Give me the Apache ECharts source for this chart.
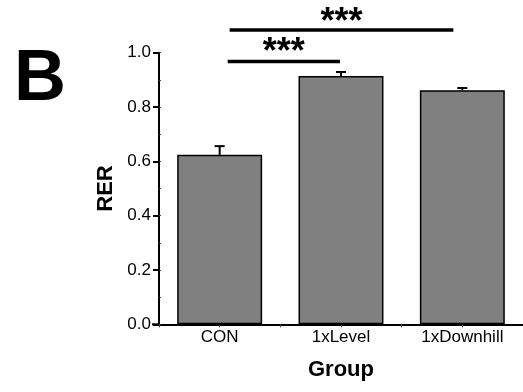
<!DOCTYPE html>
<html><head><meta charset="utf-8">
<script src="https://cdn.jsdelivr.net/npm/echarts@6/dist/echarts.min.js"></script>
<style>html,body{margin:0;padding:0;background:#fff}#c{width:523px;height:392px}</style>
</head><body><div id="c"></div>
<script>
var categories = ['CON', '1xLevel', '1xDownhill'];
var values = [0.624, 0.914, 0.862];
var errors = [0.032, 0.015, 0.008];
var yTicks = [0.0, 0.2, 0.4, 0.6, 0.8, 1.0];
// [from index, to index, bracket level (y value), label, label centre (y value)]
var sigPairs = [[0, 1, 0.968, '***', 1.022], [0, 2, 1.084, '***', 1.130]];

var FONT = 'Liberation Sans, Arial, sans-serif';
var chart = echarts.init(document.getElementById('c'), null, {renderer: 'canvas'});

var errData = values.map(function (v, i) { return [i, v, v + errors[i]]; });

var option = {
  animation: false,
  backgroundColor: '#fff',
  grid: {left: 159, right: -5, top: 52.7, bottom: 67.7, containLabel: false},
  xAxis: [{
    type: 'category', data: categories, boundaryGap: true,
    name: 'Group', nameLocation: 'middle', nameGap: 35,
    nameTextStyle: {fontFamily: FONT, fontWeight: 'bold', fontSize: 22, color: '#000'},
    axisLine: {lineStyle: {color: '#000', width: 2}},
    axisTick: {show: true, length: 3, inside: false, lineStyle: {color: '#444', width: 1}},
    axisLabel: {fontFamily: FONT, fontSize: 17, color: '#000', margin: 5}
  }, {
    type: 'category', data: categories, boundaryGap: true, position: 'bottom', offset: 0,
    axisLine: {show: false},
    axisTick: {show: true, alignWithLabel: true, length: 3, lineStyle: {color: '#444', width: 1}},
    axisLabel: {show: false}
  }],
  yAxis: [{
    type: 'value', min: 0, max: 1, interval: 0.2,
    name: 'RER', nameLocation: 'middle', nameGap: 39, nameRotate: 90,
    nameTextStyle: {fontFamily: FONT, fontWeight: 'bold', fontSize: 22, color: '#000'},
    axisLine: {show: true, lineStyle: {color: '#000', width: 2}},
    axisTick: {show: true, length: 6, lineStyle: {color: '#000', width: 2}},
    splitLine: {show: false},
    axisLabel: {fontFamily: FONT, fontSize: 17, color: '#000', margin: 8,
      formatter: function (v) { return v.toFixed(1); }}
  }, {
    type: 'value', min: 0, max: 1, interval: 0.1, position: 'left', offset: 0,
    axisLine: {show: false},
    axisTick: {show: true, inside: true, length: 2, lineStyle: {color: '#444', width: 1}},
    splitLine: {show: false},
    axisLabel: {show: false}
  }],
  series: [
    {
      type: 'bar', data: values, barWidth: '70%',
      itemStyle: {color: '#808080', borderColor: '#000', borderWidth: 1.5}
    },
    {
      type: 'custom', data: errData, z: 3,
      renderItem: function (params, api) {
        var i = api.value(0);
        var lo = api.coord([i, api.value(1)]);
        var hi = api.coord([i, api.value(2)]);
        var hw = 5;
        return {
          type: 'group', children: [
            {type: 'line', shape: {x1: lo[0], y1: lo[1], x2: hi[0], y2: hi[1]}, style: {stroke: '#000', lineWidth: 2}},
            {type: 'line', shape: {x1: hi[0] - hw, y1: hi[1], x2: hi[0] + hw, y2: hi[1]}, style: {stroke: '#000', lineWidth: 2}}
          ]
        };
      }
    }
  ],
  graphic: []
};
chart.setOption(option);

var origin = chart.convertToPixel({seriesIndex: 0}, [0, 0]);
var g = [
  {type: 'text', left: 14, top: 44, style: {text: 'B', font: 'bold 72px ' + FONT, fill: '#000'}},
  {type: 'line', shape: {x1: 152, y1: origin[1], x2: 160, y2: origin[1]}, style: {stroke: '#000', lineWidth: 2}}
];
sigPairs.forEach(function (p, k) {
  var a = chart.convertToPixel({seriesIndex: 0}, [p[0], p[2]]);
  var b = chart.convertToPixel({seriesIndex: 0}, [p[1], p[2]]);
  var t = chart.convertToPixel({seriesIndex: 0}, [p[0], p[4]]);
  var x1 = a[0] + (k === 0 ? 8 : 10);
  var x2 = b[0] - (k === 0 ? 1 : 9);
  g.push({type: 'line', shape: {x1: x1, y1: a[1], x2: x2, y2: a[1]}, style: {stroke: '#000', lineWidth: 3.5}});
  g.push({type: 'text', x: (x1 + x2) / 2, y: t[1] + 24, style: {text: p[3], font: 'bold 36px ' + FONT, fill: '#000', textAlign: 'center', textVerticalAlign: 'bottom'}});
});
chart.setOption({graphic: g});
</script></body></html>
